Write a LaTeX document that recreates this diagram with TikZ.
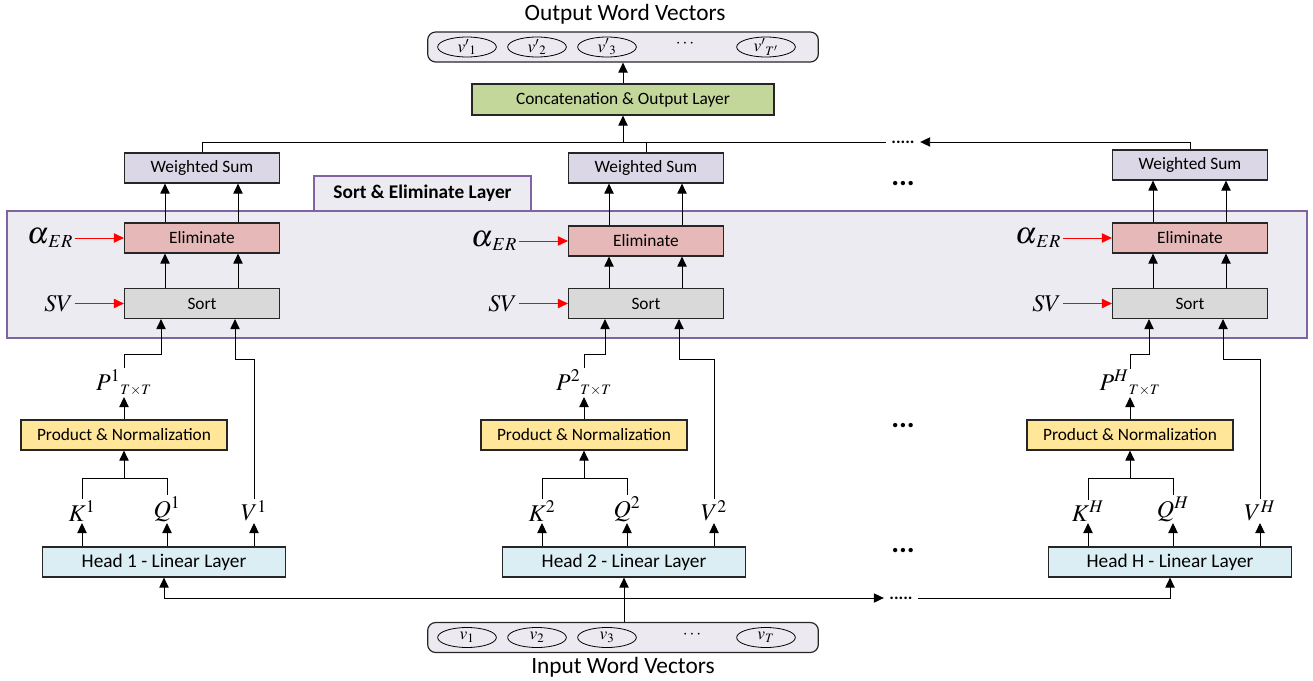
\documentclass[tikz,border=0pt]{standalone}
\usepackage{mathptmx}
\usepackage[no-math]{fontspec}
\setmainfont{Carlito}
\usepackage{tikz}
\usetikzlibrary{calc,arrows.meta,positioning,shapes.geometric}
\definecolor{vbCol}{RGB}{236,233,241}
\definecolor{layCol}{RGB}{237,235,242}
\definecolor{layLine}{RGB}{128,100,162}
\definecolor{wsCol}{RGB}{220,215,230}
\definecolor{elCol}{RGB}{230,184,183}
\definecolor{soCol}{RGB}{217,217,217}
\definecolor{prCol}{RGB}{255,230,153}
\definecolor{hdCol}{RGB}{218,238,243}
\definecolor{ccCol}{RGB}{196,215,155}
\begin{document}
\begin{tikzpicture}[x=0.75pt,y=-0.75pt,font=\fontsize{13}{15}\selectfont,
    box/.style={draw=black!85,line width=0.9pt,inner sep=0pt,minimum height=22.5pt},
    wsbox/.style={box,fill=wsCol,minimum width=116.25pt},
    elimbox/.style={box,fill=elCol,minimum width=116.25pt},
    sortbox/.style={box,fill=soCol,minimum width=116.25pt},
    prodbox/.style={box,fill=prCol,minimum width=154.5pt},
    headbox/.style={box,fill=hdCol,minimum width=182.25pt,font=\fontsize{14.5}{16}\selectfont},
    vecbox/.style={box,rounded corners=6pt,fill=vbCol,minimum width=293pt},
    vec/.style={ellipse,draw,line width=0.6pt,minimum width=44pt,minimum height=15pt,inner sep=0pt},
    vectxt/.style={inner sep=0pt,font=\fontsize{13}{13}\selectfont},
    mlbl/.style={inner sep=1pt,font=\fontsize{18}{18}\selectfont},
    albl/.style={inner sep=1pt,font=\fontsize{23}{23}\selectfont},
    arr/.style={-{Triangle[width=7pt,length=7.5pt]},line width=0.7pt},
    redarr/.style={arr,red},
    smdots/.style={inner xsep=4pt,inner ysep=0pt,font=\bfseries\fontsize{13}{13}\selectfont},
    bigdots/.style={inner sep=0pt,font=\bfseries\fontsize{22}{22}\selectfont}]
    \useasboundingbox(0,0)rectangle(1313,681);
    \node[draw=layLine,line width=1.1pt,fill=layCol,minimum width=975pt,minimum height=95.25pt,inner sep=0pt](seLayer)at(657,274.5){};
    \node[draw=layLine,line width=1.1pt,fill=layCol,minimum width=162.75pt,minimum height=26.25pt,inner sep=0pt,font=\bfseries\fontsize{14.5}{16}\selectfont](seTab)at(422.5,193.5){Sort \& Eliminate Layer};
    \node[font=\fontsize{17.5}{20}\selectfont](outTitle)at(625,14){Output Word Vectors};
    \node[vecbox](outBox)at(623,47){};
    \node[fill=ccCol,box,minimum width=226.5pt,minimum height=23.25pt](concat)at(623,99.5){Concatenation \& Output Layer};
    \node[vecbox](inBox)at(623,637.5){};
    \node[font=\fontsize{17.5}{20}\selectfont](inTitle)at(623,667){Input Word Vectors};
    \foreach \n/\dx in {1/-156,2/-86,3/-16}{
      \node[vec](out\n)at($(outBox)+(\dx,0)$){};
      \node[vectxt](outL\n)at(out\n){$v^{\prime}{}_{\n}$};
      \node[vec](in\n)at($(inBox)+(\dx,0)$){};
      \node[vectxt](inL\n)at(in\n){$v_{\n}$};
    }
    \node[vec](outT)at($(outBox)+(143,0)$){};
    \node[vectxt](outLT)at(outT){$v^{\prime}{}_{T'}$};
    \node[vec](inT)at($(inBox)+(143,0)$){};
    \node[vectxt](inLT)at(inT){$v_{T}$};
    \node(outDots)at($(outBox)+(62,-3)$){$\cdots$};
    \node(inDots)at($(inBox)+(69,-3)$){$\cdots$};
    \foreach \i/\xu/\xl/\yw/\ye in {1/202/164/168/238,2/646/624/168/241,H/1190/1170/165/238}{
      \node[wsbox](ws\i)at(\xu,\yw){Weighted Sum};
      \node[elimbox](el\i)at(\xu,\ye){Eliminate};
      \node[sortbox](so\i)at(\xu,303.5){Sort};
      \node[albl,left=37pt of el\i](al\i){$\alpha_{\scriptscriptstyle\,ER}$};
      \node[mlbl,left=37pt of so\i](sv\i){$SV$};
      \draw[redarr](al\i.east)--(el\i.west);
      \draw[redarr](sv\i.east)--(so\i.west);
      \foreach \d in {-37,36}{
        \draw[arr]($(so\i.north)+(\d,0)$)--($(el\i.south)+(\d,0)$);
        \draw[arr]($(el\i.north)+(\d,0)$)--($(ws\i.south)+(\d,0)$);
      }
      \node[headbox](hd\i)at(\xl,562){Head \i{} - Linear Layer};
      \node[prodbox](pr\i)at(\xl-40,435){Product \& Normalization};
      \node[mlbl,anchor=south](kl\i)at(\xl-82,523){$K^{\i}$};
      \node[mlbl,anchor=south](ql\i)at(\xl+3,523){$Q^{\i}$};
      \node[mlbl,anchor=south](vl\i)at(\xl+90,523){$V^{\i}$};
      \node[mlbl,anchor=south](pl\i)at(\xl-40,397){$P^{\i}{}_{\scriptscriptstyle T\times T}$};
      \draw[arr](hd\i.north-|kl\i)--(kl\i.south);
      \draw[arr](hd\i.north-|ql\i)--(ql\i.south);
      \draw[arr](hd\i.north-|vl\i)--(vl\i.south);
      \coordinate(br\i)at($(pr\i.south)+(0,28)$);
      \draw(kl\i.north)|-(br\i)-|(ql\i.north);
      \draw[arr](br\i)--(pr\i.south);
      \draw[arr](pr\i.north)--(pl\i.south);
      \draw[arr](pl\i.north)|-($(so\i.south)+(-41,35)$)--($(so\i.south)+(-41,0)$);
      \draw[arr](vl\i.north)|-($(so\i.south)+(33,40)$)--($(so\i.south)+(33,0)$);
    }
    \node[smdots](dotsT)at(903,142){.....};
    \node[smdots](dotsB)at(901,598){.....};
    \node[bigdots](gap1)at(903,184){...};
    \node[bigdots](gap2)at(903,426){...};
    \node[bigdots](gap3)at(903,551){...};
    \draw(ws1.north)|-(dotsT.west);
    \draw(ws2.north)--(ws2.north|-dotsT);
    \draw[arr](wsH.north)|-(dotsT.east);
    \draw[arr](concat.south|-dotsT)--(concat.south);
    \draw[arr](concat.north)--(outBox.south);
    \draw[arr](hd2.south|-inBox.north)--(hd2.south);
    \draw[arr](hd2.south|-dotsB)-|(hd1.south);
    \draw[arr](hd2.south|-dotsB)--(dotsB.west);
    \draw[arr](dotsB.east)-|(hdH.south);
  \end{tikzpicture}
\end{document}
